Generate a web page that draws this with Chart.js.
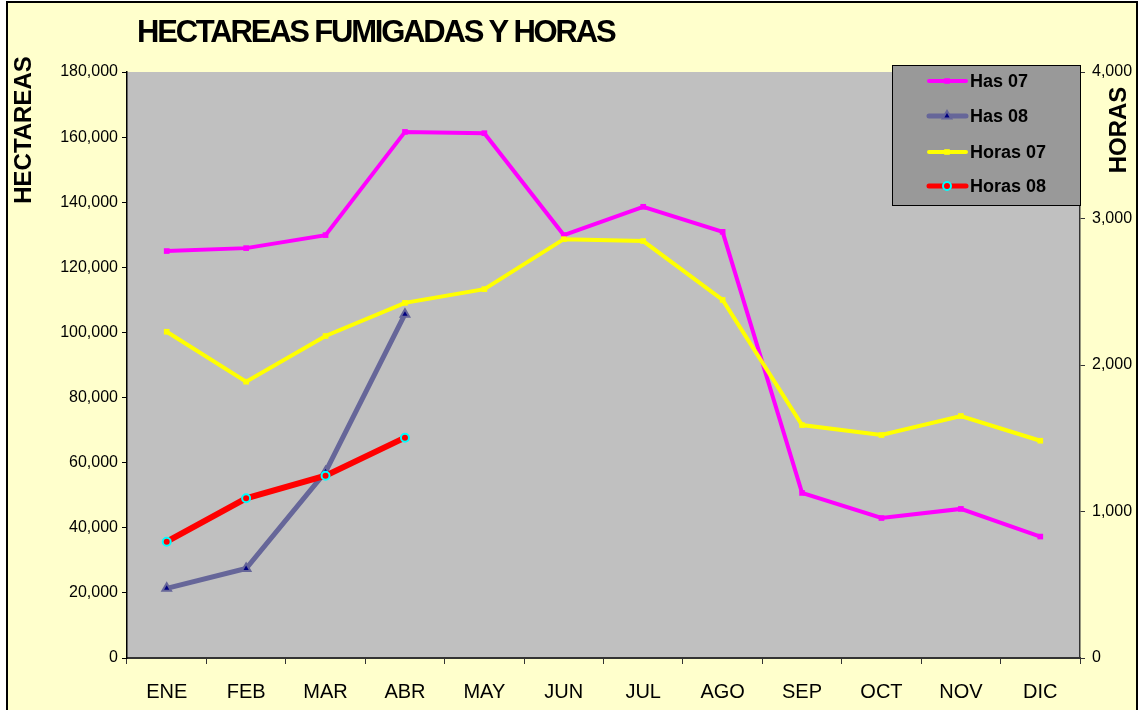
<!DOCTYPE html>
<html>
<head>
<meta charset="utf-8">
<title>Hectareas fumigadas y horas</title>
<script src="https://cdn.jsdelivr.net/npm/chart.js"></script>
<style>
    html, body { margin: 0; padding: 0; background: #ffffff; }
    canvas { display: block; }
</style>
</head>
<body>
<canvas id="grafico" width="1144" height="710"></canvas>
<script>
const meses = ['ENE', 'FEB', 'MAR', 'ABR', 'MAY', 'JUN', 'JUL', 'AGO', 'SEP', 'OCT', 'NOV', 'DIC'];
const has07 = [125000, 125900, 129900, 161600, 161200, 129900, 138600, 130900, 50700, 43000, 45800, 37300];
const has08 = [21400, 27500, 57200, 105600];
const horas07 = [2227, 1886, 2198, 2424, 2518, 2859, 2846, 2444, 1590, 1522, 1652, 1483];
const horas08 = [794, 1090, 1244, 1504];
const ticksHectareas = [0, 20000, 40000, 60000, 80000, 100000, 120000, 140000, 160000, 180000];
const ticksHoras = [0, 1000, 2000, 3000, 4000];

const FUENTE = '"Liberation Sans", Arial, sans-serif';

// fondo amarillo con marco y area de trazado gris
const fondo = {
    id: 'fondo',
    beforeDraw(chart) {
        const {ctx, chartArea} = chart;
        ctx.save();
        ctx.fillStyle = '#ffffff';
        ctx.fillRect(0, 0, chart.width, chart.height);
        ctx.fillStyle = '#ffffcc';
        ctx.fillRect(7, 2, 1130, chart.height);
        ctx.strokeStyle = '#000000';
        ctx.lineWidth = 2;
        ctx.strokeRect(7, 2, 1130, chart.height + 4);
        ctx.fillStyle = '#c0c0c0';
        ctx.fillRect(chartArea.left, chartArea.top, chartArea.right - chartArea.left, chartArea.bottom - chartArea.top);
        ctx.restore();
    }
};

// titulo principal y titulos de los ejes
const titulos = {
    id: 'titulos',
    afterDraw(chart) {
        const {ctx, chartArea} = chart;
        ctx.save();
        ctx.fillStyle = '#000000';
        ctx.textBaseline = 'middle';
        ctx.font = `bold 31px ${FUENTE}`;
        ctx.letterSpacing = '-2.2px';
        ctx.textAlign = 'left';
        ctx.fillText('HECTAREAS FUMIGADAS Y HORAS', chartArea.left + 10, 33);
        ctx.letterSpacing = '0px';

        ctx.font = `bold 24px ${FUENTE}`;
        ctx.textAlign = 'center';
        ctx.translate(24, 130);
        ctx.rotate(-Math.PI / 2);
        ctx.fillText('HECTAREAS', 0, 0);
        ctx.restore();

        ctx.save();
        ctx.fillStyle = '#000000';
        ctx.textBaseline = 'middle';
        ctx.textAlign = 'center';
        ctx.font = `bold 24px ${FUENTE}`;
        ctx.translate(1119, 130);
        ctx.rotate(-Math.PI / 2);
        ctx.fillText('HORAS', 0, 0);
        ctx.restore();
    }
};

function dibujarMarcador(ctx, ds, x, y) {
    const r = ds.pointRadius;
    ctx.fillStyle = ds.pointBackgroundColor;
    ctx.strokeStyle = ds.pointBorderColor;
    ctx.lineWidth = ds.pointBorderWidth;
    ctx.beginPath();
    if (ds.pointStyle === 'circle') {
        ctx.arc(x, y, r, 0, Math.PI * 2);
    } else if (ds.pointStyle === 'triangle') {
        ctx.moveTo(x, y - r);
        ctx.lineTo(x + r * 0.87, y + r * 0.5);
        ctx.lineTo(x - r * 0.87, y + r * 0.5);
        ctx.closePath();
    } else {
        const s = r * 0.7;
        ctx.rect(x - s, y - s, s * 2, s * 2);
    }
    ctx.fill();
    if (ds.pointBorderWidth) ctx.stroke();
}

// leyenda en recuadro gris sobre el area de trazado
const leyenda = {
    id: 'leyenda',
    afterDraw(chart) {
        const {ctx, chartArea} = chart;
        const ancho = 188;
        const alto = 140;
        const izq = chartArea.right - ancho;
        const arriba = chartArea.top - 7;
        const filas = [16, 51, 87, 121];
        ctx.save();
        ctx.fillStyle = '#999999';
        ctx.fillRect(izq, arriba, ancho, alto);
        ctx.strokeStyle = '#000000';
        ctx.lineWidth = 1;
        ctx.strokeRect(izq + 0.5, arriba + 0.5, ancho, alto);

        chart.data.datasets.forEach((ds, i) => {
            const y = arriba + filas[i];
            ctx.strokeStyle = ds.borderColor;
            ctx.lineWidth = Math.min(ds.borderWidth, 5);
            ctx.lineCap = 'round';
            ctx.beginPath();
            ctx.moveTo(izq + 37, y);
            ctx.lineTo(izq + 74, y);
            ctx.stroke();
            dibujarMarcador(ctx, ds, izq + 55, y);
            ctx.fillStyle = '#000000';
            ctx.font = `bold 18px ${FUENTE}`;
            ctx.textAlign = 'left';
            ctx.textBaseline = 'middle';
            ctx.fillText(ds.label, izq + 78, y + 1);
        });
        ctx.restore();
    }
};

const ctx = document.getElementById('grafico').getContext('2d');
new Chart(ctx, {
    type: 'line',
    data: {
        labels: meses,
        datasets: [
            {
                label: 'Has 07',
                data: has07,
                yAxisID: 'y',
                borderColor: '#ff00ff',
                borderWidth: 4,
                pointStyle: 'rect',
                pointRadius: 4,
                pointBackgroundColor: '#ff00ff',
                pointBorderColor: '#ff00ff',
                pointBorderWidth: 0,
                order: 4
            },
            {
                label: 'Has 08',
                data: has08,
                yAxisID: 'y',
                borderColor: '#666699',
                borderWidth: 5,
                pointStyle: 'triangle',
                pointRadius: 5,
                pointBackgroundColor: '#000080',
                pointBorderColor: '#666699',
                pointBorderWidth: 2,
                order: 3
            },
            {
                label: 'Horas 07',
                data: horas07,
                yAxisID: 'y1',
                borderColor: '#ffff00',
                borderWidth: 4,
                pointStyle: 'rect',
                pointRadius: 4,
                pointBackgroundColor: '#ffff00',
                pointBorderColor: '#ffff00',
                pointBorderWidth: 0,
                order: 2
            },
            {
                label: 'Horas 08',
                data: horas08,
                yAxisID: 'y1',
                borderColor: '#ff0000',
                borderWidth: 6,
                pointStyle: 'circle',
                pointRadius: 4,
                pointBackgroundColor: '#ff0000',
                pointBorderColor: '#00ffff',
                pointBorderWidth: 2,
                order: 1
            }
        ]
    },
    options: {
        responsive: false,
        animation: false,
        layout: {
            padding: {top: 72, left: 0, right: 0, bottom: 0}
        },
        elements: {
            line: {tension: 0, borderJoinStyle: 'miter'}
        },
        plugins: {
            legend: {display: false},
            title: {display: false},
            tooltip: {enabled: false}
        },
        scales: {
            x: {
                offset: true,
                grid: {
                    drawOnChartArea: false,
                    offset: true,
                    tickLength: 6,
                    color: '#333333'
                },
                border: {color: '#333333', width: 2},
                ticks: {
                    color: '#000000',
                    padding: 16,
                    maxRotation: 0,
                    font: {family: FUENTE, size: 20}
                },
                afterFit: s => { s.height = 52; }
            },
            y: {
                position: 'left',
                min: 0,
                max: 180000,
                afterBuildTicks: s => { s.ticks = ticksHectareas.map(v => ({value: v})); },
                grid: {drawOnChartArea: false, tickLength: 5, color: '#000000'},
                border: {color: '#000000', width: 1.5},
                ticks: {
                    color: '#000000',
                    padding: 4,
                    font: {family: FUENTE, size: 16},
                    callback: v => v.toLocaleString('en-US')
                },
                afterFit: s => { s.width = 127; }
            },
            y1: {
                position: 'right',
                min: 0,
                max: 4000,
                afterBuildTicks: s => { s.ticks = ticksHoras.map(v => ({value: v})); },
                grid: {drawOnChartArea: false, tickLength: 5, color: '#333333'},
                border: {color: '#333333', width: 1.5},
                ticks: {
                    color: '#000000',
                    padding: 7,
                    font: {family: FUENTE, size: 16},
                    callback: v => v.toLocaleString('en-US')
                },
                afterFit: s => { s.width = 64; }
            }
        }
    },
    plugins: [fondo, titulos, leyenda]
});
</script>
</body>
</html>
